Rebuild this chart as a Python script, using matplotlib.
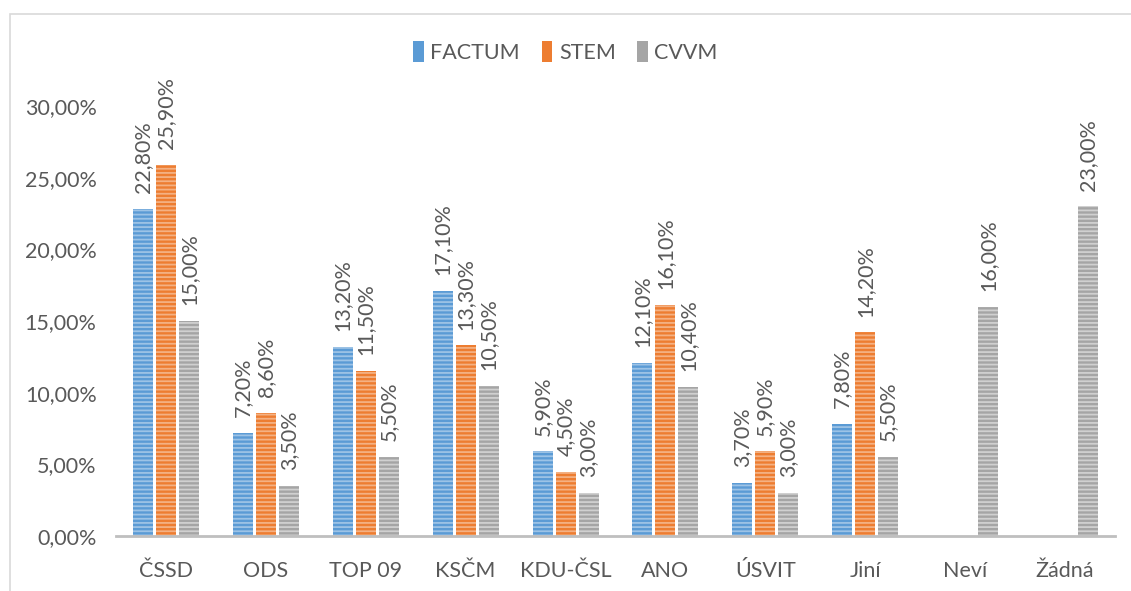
import numpy as np
import matplotlib.pyplot as plt
from matplotlib.patches import Rectangle

parties = ['ČSSD', 'ODS', 'TOP 09', 'KSČM', 'KDU-ČSL', 'ANO', 'ÚSVIT', 'Jiní', 'Neví', 'Žádná']
factum = [22.8, 7.2, 13.2, 17.1, 5.9, 12.1, 3.7, 7.8, np.nan, np.nan]
stem = [25.9, 8.6, 11.5, 13.3, 4.5, 16.1, 5.9, 14.2, np.nan, np.nan]
cvvm = [15.0, 3.5, 5.5, 10.5, 3.0, 10.4, 3.0, 5.5, 16.0, 23.0]
series = ['FACTUM', 'STEM', 'CVVM']

colors = ['#5B9BD5', '#ED7D31', '#A5A5A5']
stripes = ['#9DC3E6', '#F4B183', '#D0D0D0']
txt = '#595959'
fs = 15.5

plt.rcParams['font.family'] = ['Lato', 'DejaVu Sans']
plt.rcParams['hatch.linewidth'] = 1.3

fig = plt.figure(figsize=(11.31, 5.91), dpi=100)
ax = fig.add_axes([116 / 1131, 1 - 536 / 591, (1115 - 116) / 1131, (536 - 106) / 591])

# ramecek grafu
fig.patches.append(Rectangle((10 / 1131, -0.01), 1.1, 1 - 14 / 591 + 0.01,
                             transform=fig.transFigure, fill=False,
                             edgecolor='#D9D9D9', linewidth=1.2))

x = np.arange(len(parties))
w = 0.2
step = 0.23
for i, (name, vals) in enumerate(zip(series, [factum, stem, cvvm])):
    pos = x + (i - 1) * step
    v = np.array(vals)
    ax.bar(pos, v, w, color=colors[i], label=name, linewidth=0)
    ax.bar(pos, v, w, facecolor='none', edgecolor=stripes[i], hatch='----', linewidth=0)
    for p, val in zip(pos, v):
        if np.isnan(val):
            continue
        lab = f'{val:.2f}%'.replace('.', ',')
        ax.text(p, val + 1.1, lab, rotation=90, ha='center', va='bottom',
                fontsize=fs, color=txt)

ax.set_ylim(0, 30)
ax.set_xlim(-0.5, len(parties) - 0.5)
ax.set_yticks(np.arange(0, 31, 5))
ax.set_yticklabels([f'{t:.2f}%'.replace('.', ',') for t in np.arange(0, 31, 5)])
ax.set_xticks(x)
ax.set_xticklabels(parties)
ax.tick_params(axis='both', length=0, labelsize=fs, colors=txt)
ax.tick_params(axis='x', pad=18)
ax.tick_params(axis='y', pad=14)
for s in ['top', 'right', 'left']:
    ax.spines[s].set_visible(False)
ax.spines['bottom'].set_color('#BFBFBF')
ax.spines['bottom'].set_linewidth(2)

ax.legend(loc='center', bbox_to_anchor=(0.5, (591 - 52) / 591), bbox_transform=fig.transFigure,
          ncol=3, frameon=False, fontsize=fs, handlelength=0.5, handleheight=1.1,
          handletextpad=0.3, columnspacing=1.0, labelcolor=txt)

fig.savefig('out.png', dpi=100)
